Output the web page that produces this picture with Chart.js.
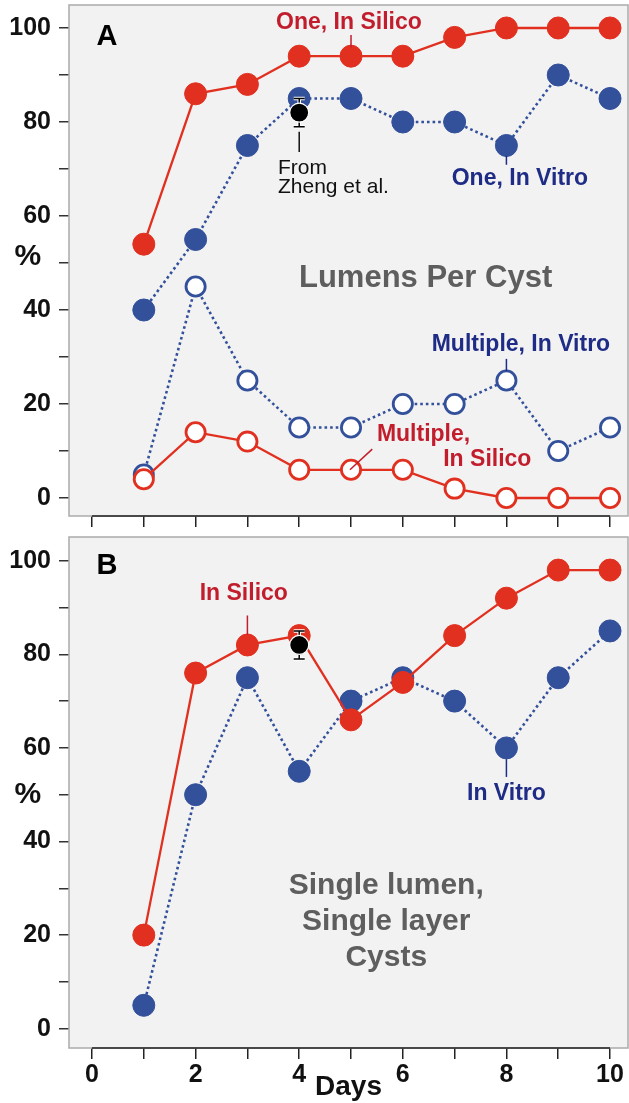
<!DOCTYPE html>
<html>
<head>
<meta charset="utf-8">
<script src="https://cdn.jsdelivr.net/npm/chart.js@4.4.1/dist/chart.umd.min.js"></script>
<style>
    html, body { margin: 0; padding: 0; background: #fff; }
    #wrap { position: relative; width: 629px; height: 1103px; overflow: hidden; }
    .panel { position: absolute; left: 0; width: 629px; }
    #panelA { top: 0; height: 535px; }
    #panelB { top: 530px; height: 573px; }
</style>
</head>
<body>
<div id="wrap">
    <div class="panel" id="panelA"><canvas id="chartA"></canvas></div>
    <div class="panel" id="panelB"><canvas id="chartB"></canvas></div>
</div>
<script>
// ─── DATOS ────────────────────────────────────────────────
const days = [1, 2, 3, 4, 5, 6, 7, 8, 9, 10]
const xTicks = [0, 1, 2, 3, 4, 5, 6, 7, 8, 9, 10]
const yTicks = [0, 10, 20, 30, 40, 50, 60, 70, 80, 90, 100]

// A: lumens per cyst
const oneInSilico = [54, 86, 88, 94, 94, 94, 98, 100, 100, 100]
const oneInVitro = [40, 55, 75, 85, 85, 80, 80, 75, 90, 85]
const multiInVitro = [5, 45, 25, 15, 15, 20, 20, 25, 10, 15]
const multiInSilico = [4, 14, 12, 6, 6, 6, 2, 0, 0, 0]

// B: single lumen, single layer cysts
const singleInSilico = [20, 76, 82, 84, 66, 74, 84, 92, 98, 98]
const singleInVitro = [5, 50, 75, 55, 70, 75, 70, 60, 75, 85]

// From Zheng et al.
const zhengDay = [4]
const zhengMean = [82]
const zhengErr = [3]

// ─── ESTILO ───────────────────────────────────────────────
const FONT = 'Liberation Sans, Arial, Helvetica, sans-serif'
const RED = '#e1301f'
const RED_TXT = '#c21d2c'
const BLUE = '#33509b'
const BLUE_TXT = '#1e2c86'
const GRAY_TXT = '#5e5e5e'

const pts = vals => days.map((d, i) => ({ x: d, y: vals[i] }))

function series(vals, color, dotted, open) {
    return {
        data: pts(vals),
        borderColor: color,
        borderWidth: dotted ? 2.6 : 2.3,
        borderDash: dotted ? [2.6, 3] : [],
        pointRadius: open ? 9.6 : 11,
        pointHoverRadius: open ? 9.6 : 11,
        pointBackgroundColor: open ? '#ffffff' : color,
        pointBorderColor: color,
        pointBorderWidth: open ? 2.8 : 1,
        order: color === RED ? 1 : 2,
        clip: false
    }
}

function zhengSet() {
    return {
        data: zhengDay.map((d, i) => ({ x: d, y: zhengMean[i] })),
        showLine: false,
        pointRadius: 9.5,
        pointHoverRadius: 9.5,
        pointBackgroundColor: '#000',
        pointBorderColor: '#fff',
        pointBorderWidth: 1.2,
        order: 0,
        isZheng: true,
        clip: false
    }
}

// ─── PLUGIN: panel, ejes y notas ──────────────────────────
const panelPlugin = {
    id: 'panel',
    beforeDraw(chart) {
        const { ctx, chartArea: a } = chart
        ctx.save()
        ctx.fillStyle = '#f2f2f2'
        ctx.fillRect(a.left, a.top, a.right - a.left, a.bottom - a.top)
        ctx.restore()
    },
    beforeDatasetsDraw(chart) {
        const { ctx, chartArea: a, scales: { x } } = chart
        ctx.save()
        ctx.strokeStyle = '#ababab'
        ctx.lineWidth = 1.5
        ctx.strokeRect(a.left, a.top, a.right - a.left, a.bottom - a.top)
        ctx.strokeStyle = '#222'
        ctx.beginPath()
        ctx.moveTo(x.getPixelForValue(xTicks[0]), a.bottom)
        ctx.lineTo(x.getPixelForValue(xTicks[xTicks.length - 1]), a.bottom)
        ctx.stroke()
        ctx.restore()
    },
    beforeDatasetDraw(chart, args) {
        if (!chart.data.datasets[args.index].isZheng) return
        const { ctx, scales: { x, y } } = chart
        zhengDay.forEach((d, i) => {
            const px = x.getPixelForValue(d)
            const lo = y.getPixelForValue(zhengMean[i] - zhengErr[i])
            const hi = y.getPixelForValue(zhengMean[i] + zhengErr[i])
            ctx.save()
            const path = () => {
                ctx.beginPath()
                ctx.moveTo(px, lo); ctx.lineTo(px, hi)
                ctx.moveTo(px - 5.5, lo); ctx.lineTo(px + 5.5, lo)
                ctx.moveTo(px - 5.5, hi); ctx.lineTo(px + 5.5, hi)
            }
            ctx.strokeStyle = '#fff'; ctx.lineWidth = 3.5; path(); ctx.stroke()
            ctx.strokeStyle = '#000'; ctx.lineWidth = 1.5; path(); ctx.stroke()
            ctx.restore()
        })
    },
    afterDatasetsDraw(chart, args, opts) {
        const { ctx, scales: { x, y } } = chart
        ctx.save()
        ;(opts.lines || []).forEach(l => {
            ctx.strokeStyle = l.color
            ctx.lineWidth = 1.5
            ctx.beginPath()
            ctx.moveTo(x.getPixelForValue(l.x1), y.getPixelForValue(l.y1))
            ctx.lineTo(x.getPixelForValue(l.x2), y.getPixelForValue(l.y2))
            ctx.stroke()
        })
        ;(opts.texts || []).forEach(t => {
            ctx.fillStyle = t.color
            ctx.font = t.font
            ctx.textAlign = t.align || 'center'
            ctx.textBaseline = 'middle'
            ctx.fillText(t.text, x.getPixelForValue(t.x), y.getPixelForValue(t.y))
        })
        ctx.restore()
    }
}

// ─── CONFIG ───────────────────────────────────────────────
function makeOptions(yMin, yMax, xHeight, padTop, showXLabels, notes) {
    return {
        responsive: true,
        maintainAspectRatio: false,
        devicePixelRatio: 1,
        animation: false,
        events: [],
        layout: { autoPadding: false, padding: { top: padTop, right: 1, left: 0, bottom: 0 } },
        plugins: { legend: { display: false }, tooltip: { enabled: false }, panel: notes },
        scales: {
            x: {
                type: 'linear',
                min: -0.444,
                max: 10.347,
                afterBuildTicks: s => { s.ticks = xTicks.map(v => ({ value: v })) },
                afterFit: s => { s.height = xHeight; s.paddingLeft = 0; s.paddingRight = 0 },
                ticks: {
                    display: showXLabels,
                    autoSkip: false,
                    maxRotation: 0,
                    padding: 1,
                    color: '#111',
                    font: { family: FONT, size: 25, weight: 'bold' },
                    callback: v => (v % 2 === 0 ? v : '')
                },
                grid: { drawOnChartArea: false, drawTicks: true, tickLength: 11, color: '#222', lineWidth: 1.5 },
                border: { display: false },
                title: {
                    display: showXLabels,
                    text: 'Days',
                    color: '#111',
                    font: { family: FONT, size: 28, weight: 'bold' },
                    padding: { top: 0, bottom: -1 }
                }
            },
            y: {
                min: yMin,
                max: yMax,
                afterBuildTicks: s => { s.ticks = yTicks.map(v => ({ value: v })) },
                afterFit: s => { s.width = 69; s.paddingTop = 0; s.paddingBottom = 0 },
                ticks: {
                    autoSkip: false,
                    padding: 8,
                    color: '#111',
                    font: { family: FONT, size: 25, weight: 'bold' },
                    callback: v => (v % 20 === 0 ? v : '')
                },
                grid: { drawOnChartArea: false, drawTicks: true, tickLength: 10, color: '#333', lineWidth: 1.5 },
                border: { display: false }
            }
        }
    }
}

const bold23 = `bold 23px ${FONT}`

const notesA = {
    texts: [
        { text: 'A', x: 0.29, y: 98.0, color: '#000', font: `bold 29px ${FONT}` },
        { text: 'One, In Silico', x: 4.96, y: 101.2, color: RED_TXT, font: bold23 },
        { text: 'From', x: 3.59, y: 70.2, color: '#111', font: `21px ${FONT}`, align: 'left' },
        { text: 'Zheng et al.', x: 3.59, y: 66.2, color: '#111', font: `21px ${FONT}`, align: 'left' },
        { text: 'One, In Vitro', x: 8.26, y: 67.9, color: BLUE_TXT, font: bold23 },
        { text: 'Lumens Per Cyst', x: 6.44, y: 46.8, color: GRAY_TXT, font: `bold 31px ${FONT}` },
        { text: 'Multiple, In Vitro', x: 8.28, y: 32.6, color: BLUE_TXT, font: bold23 },
        { text: 'Multiple,', x: 5.5, y: 13.4, color: RED_TXT, font: bold23, align: 'left' },
        { text: 'In Silico', x: 6.78, y: 8.1, color: RED_TXT, font: bold23, align: 'left' },
        { text: '%', x: -1.24, y: 51.3, color: '#111', font: `bold 30px ${FONT}` }
    ],
    lines: [
        { x1: 5, y1: 98.5, x2: 5, y2: 95.9, color: RED_TXT },
        { x1: 4, y1: 77.9, x2: 4, y2: 73.6, color: '#111' },
        { x1: 8, y1: 72.8, x2: 8, y2: 70.9, color: BLUE_TXT },
        { x1: 8, y1: 29.6, x2: 8, y2: 27.0, color: BLUE_TXT },
        { x1: 5.41, y1: 10.4, x2: 4.98, y2: 6.0, color: RED_TXT }
    ]
}

const notesB = {
    texts: [
        { text: 'B', x: 0.29, y: 98.8, color: '#000', font: `bold 29px ${FONT}` },
        { text: 'In Silico', x: 2.93, y: 92.9, color: RED_TXT, font: bold23 },
        { text: 'In Vitro', x: 8.0, y: 50.3, color: BLUE_TXT, font: bold23 },
        { text: 'Single lumen,', x: 5.68, y: 30.5, color: GRAY_TXT, font: `bold 30px ${FONT}` },
        { text: 'Single layer', x: 5.68, y: 22.8, color: GRAY_TXT, font: `bold 30px ${FONT}` },
        { text: 'Cysts', x: 5.68, y: 15.1, color: GRAY_TXT, font: `bold 30px ${FONT}` },
        { text: '%', x: -1.24, y: 50.0, color: '#111', font: `bold 30px ${FONT}` }
    ],
    lines: [
        { x1: 3, y1: 88.3, x2: 3, y2: 84.2, color: RED_TXT },
        { x1: 8, y1: 57.6, x2: 8, y2: 53.8, color: BLUE_TXT }
    ]
}

// ─── INIT ─────────────────────────────────────────────────
new Chart(document.getElementById('chartA'), {
    type: 'line',
    data: {
        datasets: [
            zhengSet(),
            series(oneInSilico, RED, false, false),
            series(multiInSilico, RED, false, true),
            series(oneInVitro, BLUE, true, false),
            series(multiInVitro, BLUE, true, true)
        ]
    },
    options: makeOptions(-3.83, 104.89, 19, 5, false, notesA),
    plugins: [panelPlugin]
})

new Chart(document.getElementById('chartB'), {
    type: 'line',
    data: {
        datasets: [
            zhengSet(),
            series(singleInSilico, RED, false, false),
            series(singleInVitro, BLUE, true, false)
        ]
    },
    options: makeOptions(-4.12, 105.07, 55, 7, true, notesB),
    plugins: [panelPlugin]
})
</script>
</body>
</html>
